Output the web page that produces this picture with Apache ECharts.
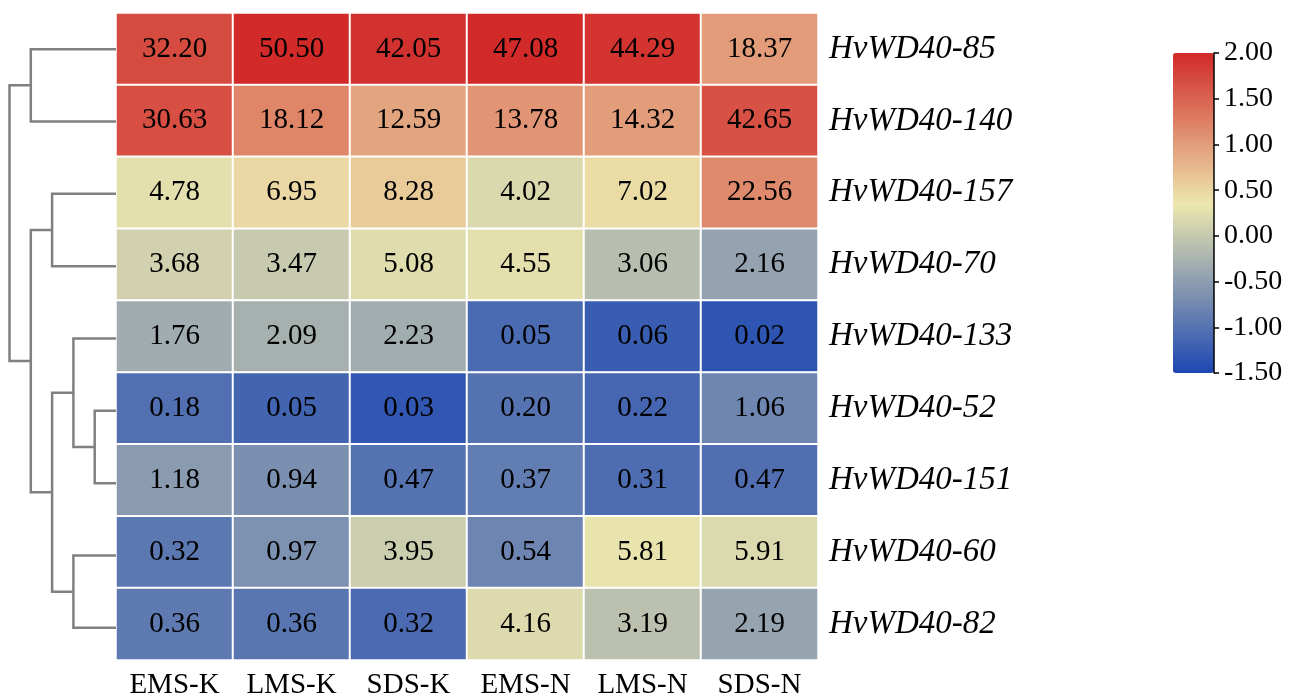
<!DOCTYPE html>
<html>
<head>
<meta charset="utf-8">
<script src="https://cdn.jsdelivr.net/npm/echarts@6/dist/echarts.min.js"></script>
<style>
html,body{margin:0;padding:0;background:#fff;}
#chart{width:1306px;height:700px;}
</style>
</head>
<body>
<div id="chart"></div>
<script>
// ---- data ----
const samples = ['EMS-K', 'LMS-K', 'SDS-K', 'EMS-N', 'LMS-N', 'SDS-N'];
const genes = ['HvWD40-85', 'HvWD40-140', 'HvWD40-157', 'HvWD40-70', 'HvWD40-133',
               'HvWD40-52', 'HvWD40-151', 'HvWD40-60', 'HvWD40-82'];
const valHvWD40_85  = [32.20, 50.50, 42.05, 47.08, 44.29, 18.37];
const valHvWD40_140 = [30.63, 18.12, 12.59, 13.78, 14.32, 42.65];
const valHvWD40_157 = [4.78, 6.95, 8.28, 4.02, 7.02, 22.56];
const valHvWD40_70  = [3.68, 3.47, 5.08, 4.55, 3.06, 2.16];
const valHvWD40_133 = [1.76, 2.09, 2.23, 0.05, 0.06, 0.02];
const valHvWD40_52  = [0.18, 0.05, 0.03, 0.20, 0.22, 1.06];
const valHvWD40_151 = [1.18, 0.94, 0.47, 0.37, 0.31, 0.47];
const valHvWD40_60  = [0.32, 0.97, 3.95, 0.54, 5.81, 5.91];
const valHvWD40_82  = [0.36, 0.36, 0.32, 4.16, 3.19, 2.19];
// dendrogram merges: [childA, childB, height]; leaves 0..8 (row order), new nodes 9..
const dendroMerges = [
  [0, 1, 4], [2, 3, 3], [5, 6, 1], [4, 11, 2],
  [7, 8, 2], [12, 13, 3], [10, 14, 4], [9, 15, 5]
];
const colorMin = -1.5, colorMax = 2.0, colorStep = 0.5;

// ---- build ----
const rows = [valHvWD40_85, valHvWD40_140, valHvWD40_157, valHvWD40_70, valHvWD40_133,
              valHvWD40_52, valHvWD40_151, valHvWD40_60, valHvWD40_82];
// colour score: log2(x+1), z-scored per column
const heatData = [];
for (let c = 0; c < samples.length; c++) {
  const logs = rows.map(r => Math.log2(r[c] + 1));
  const mean = logs.reduce((a, b) => a + b, 0) / logs.length;
  const sd = Math.sqrt(logs.reduce((a, b) => a + (b - mean) * (b - mean), 0) / logs.length);
  rows.forEach((r, i) => heatData.push([c, i, (logs[i] - mean) / sd, r[c]]));
}
// dendrogram polylines
const nodeY = genes.map((g, i) => i);
const nodeH = genes.map(() => 0);
const dendroLines = [];
dendroMerges.forEach(m => {
  const [a, b, h] = m;
  dendroLines.push({coords: [[nodeH[a], nodeY[a]], [h, nodeY[a]], [h, nodeY[b]], [nodeH[b], nodeY[b]]]});
  nodeY.push((nodeY[a] + nodeY[b]) / 2);
  nodeH.push(h);
});

// gradient: blue -> pale yellow (at 0.35) -> red, sampled into evenly spaced stops
const anchors = [[colorMin, [29, 71, 178]], [0.35, [237, 231, 174]], [colorMax, [209, 42, 41]]];
const gradient = [];
for (let k = 0; k <= 70; k++) {
  const v = colorMin + (colorMax - colorMin) * k / 70;
  let j = v <= anchors[1][0] ? 0 : 1;
  const t = (v - anchors[j][0]) / (anchors[j + 1][0] - anchors[j][0]);
  const c = anchors[j][1].map((x, i) => Math.round(x + (anchors[j + 1][1][i] - x) * t));
  gradient.push('rgb(' + c.join(',') + ')');
}

const FONT = "'Liberation Serif','Times New Roman',serif";
const G = {top: 13, height: 651};
const chart = echarts.init(document.getElementById('chart'));
chart.setOption({
  backgroundColor: '#fff',
  animation: false,
  grid: [
    {left: 116, top: G.top, width: 702, height: G.height},
    {left: 9.5, top: G.top, width: 106.5, height: G.height},
    {left: 1173, top: 53, width: 41, height: 320}
  ],
  xAxis: [
    {type: 'category', gridIndex: 0, data: samples, position: 'bottom',
     axisLine: {show: false}, axisTick: {show: false}, splitArea: {show: false},
     axisLabel: {interval: 0, fontFamily: FONT, fontSize: 29, color: '#000', margin: 11}},
    {type: 'value', gridIndex: 1, min: 0, max: 5, inverse: true, show: false},
    {type: 'value', gridIndex: 2, min: 0, max: 1, show: false}
  ],
  yAxis: [
    {type: 'category', gridIndex: 0, data: genes, inverse: true, position: 'right',
     axisLine: {show: false}, axisTick: {show: false},
     axisLabel: {interval: 0, fontFamily: FONT, fontStyle: 'italic', fontSize: 33, color: '#000', margin: 11}},
    {type: 'value', gridIndex: 1, min: -0.5, max: 8.5, inverse: true, show: false},
    {type: 'value', gridIndex: 2, min: colorMin, max: colorMax, interval: colorStep, position: 'right',
     z: 10,
     axisLine: {show: true, onZero: false, lineStyle: {color: '#000', width: 1.5}},
     axisTick: {show: true, length: 5, lineStyle: {color: '#000', width: 1.5}},
     splitLine: {show: false},
     axisLabel: {fontFamily: FONT, fontSize: 28, color: '#000', margin: 10,
                 formatter: v => v.toFixed(2)}}
  ],
  visualMap: {
    type: 'continuous', seriesIndex: 0, dimension: 2,
    min: colorMin, max: colorMax, z: 1,
    calculable: false, orient: 'vertical', align: 'left', left: 1173, top: 53, padding: 0,
    itemWidth: 41, itemHeight: 320, text: null, showLabel: false, hoverLink: false,
    indicatorSize: 0,
    inRange: {color: gradient}
  },
  series: [
    {type: 'heatmap', xAxisIndex: 0, yAxisIndex: 0, data: heatData,
     itemStyle: {borderColor: '#fff', borderWidth: 2},
     label: {show: true, fontFamily: FONT, fontSize: 29, color: '#000',
             formatter: p => p.value[3].toFixed(2)}},
    {type: 'lines', coordinateSystem: 'cartesian2d', xAxisIndex: 1, yAxisIndex: 1,
     polyline: true, data: dendroLines, silent: true,
     lineStyle: {color: '#808080', width: 2.5, opacity: 1}}
  ]
});
</script>
</body>
</html>
